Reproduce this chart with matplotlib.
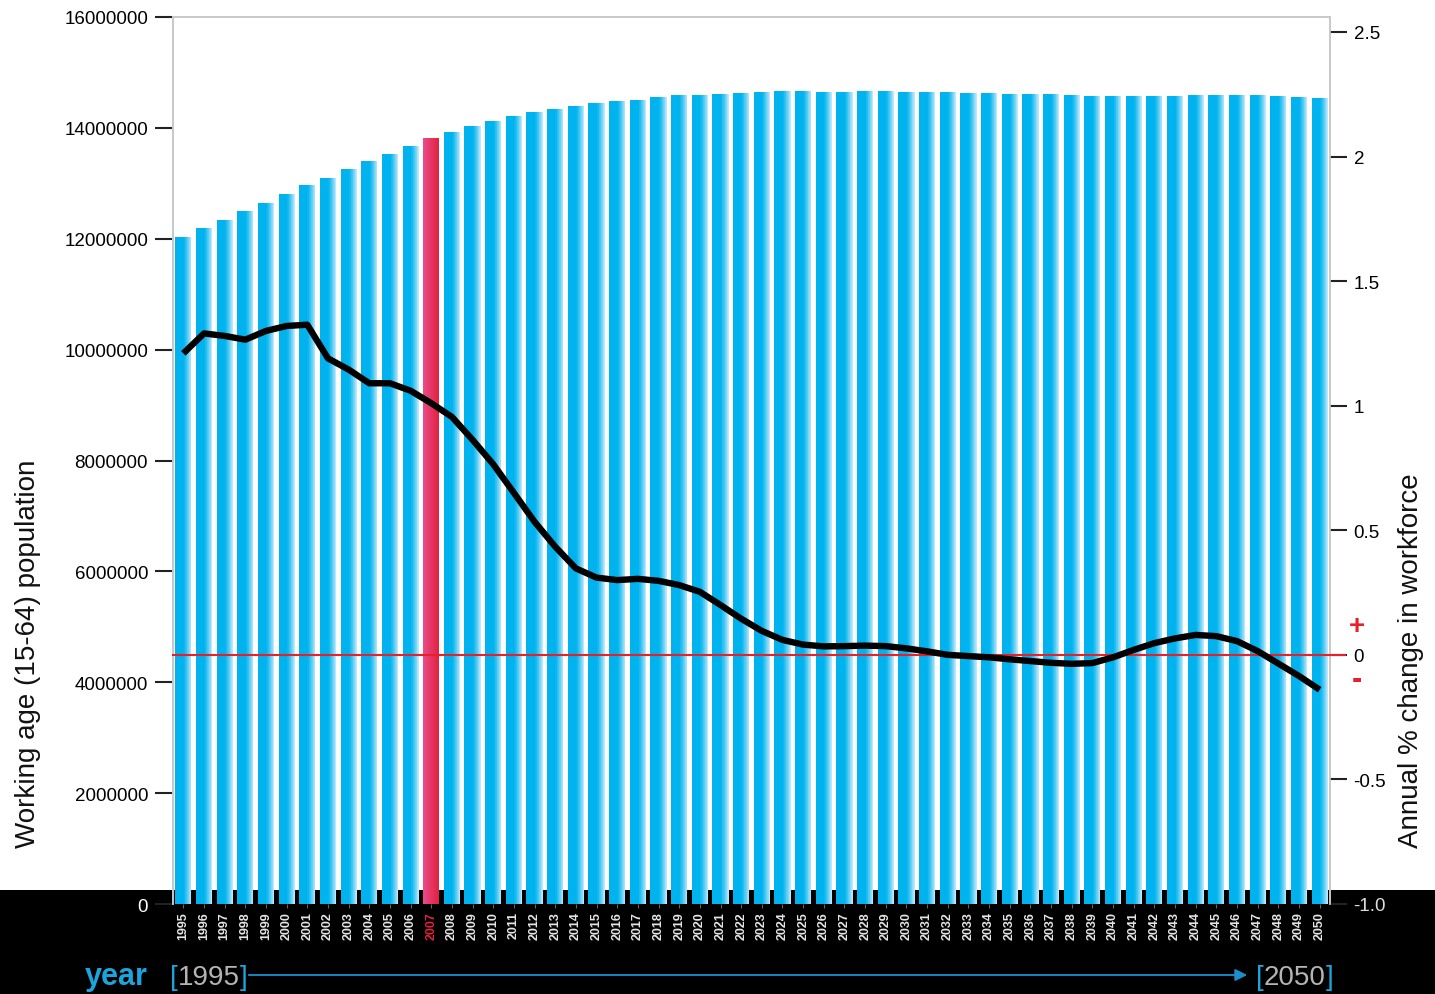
import numpy as np
import matplotlib.pyplot as plt
from matplotlib.patches import Rectangle, FancyArrowPatch
from matplotlib.colors import to_rgb
import matplotlib.transforms as mtrans

plt.rcParams['font.family'] = ['Liberation Sans', 'DejaVu Sans']

years = list(range(1995, 2051))
population = [
    12030000, 12190000, 12340000, 12500000, 12640000, 12810000, 12970000,
    13100000, 13260000, 13400000, 13530000, 13670000, 13820000, 13930000,
    14030000, 14120000, 14210000, 14290000, 14340000, 14390000, 14450000,
    14480000, 14500000, 14560000, 14590000, 14590000, 14610000, 14630000,
    14650000, 14660000, 14660000, 14650000, 14650000, 14660000, 14660000,
    14650000, 14650000, 14650000, 14630000, 14630000, 14620000, 14610000,
    14610000, 14590000, 14580000, 14570000, 14570000, 14570000, 14580000,
    14590000, 14590000, 14590000, 14590000, 14570000, 14560000, 14540000,
]
change = [
    1.21, 1.29, 1.28, 1.265, 1.30, 1.32, 1.325, 1.19, 1.145, 1.09, 1.09,
    1.06, 1.01, 0.955, 0.863, 0.765, 0.65, 0.534, 0.434, 0.347, 0.31, 0.30,
    0.305, 0.297, 0.28, 0.253, 0.20, 0.145, 0.096, 0.06, 0.041, 0.034, 0.035,
    0.037, 0.035, 0.026, 0.014, 0.0, -0.005, -0.010, -0.018, -0.025, -0.032,
    -0.036, -0.033, -0.010, 0.020, 0.047, 0.066, 0.080, 0.075, 0.055, 0.015,
    -0.035, -0.085, -0.14,
]
highlight = 2007
left_ticks = [0, 2000000, 4000000, 6000000, 8000000, 10000000, 12000000,
              14000000, 16000000]
right_ticks = [-1.0, -0.5, 0, 0.5, 1, 1.5, 2, 2.5]
right_labels = ['-1.0', '-0.5', '0', '0.5', '1', '1.5', '2', '2.5']

W, H = 1435, 995
fig = plt.figure(figsize=(W / 100, H / 100), dpi=100)
band = 1 - 891 / H
fig.patches.append(Rectangle((0, 0), 1, band, transform=fig.transFigure,
                             facecolor='black', edgecolor='none', zorder=-1))

ax = fig.add_axes([173 / W, 1 - 905 / H, (1330 - 173) / W, (905 - 18) / H])
ax.patch.set_visible(False)
x = np.arange(len(years))

# bars with a left-to-right gradient, drawn as thin slices
n_sl = 24
bw = 0.78
sw = bw / n_sl
blue0, blue1 = np.array(to_rgb('#00b3ee')), np.array(to_rgb('#b8e8fb'))
red0, red1 = np.array(to_rgb('#e94a88')), np.array(to_rgb('#e2203e'))
for k in range(n_sl):
    t = k / (n_sl - 1)
    f = 0 if t < 0.5 else ((t - 0.5) / 0.5) ** 1.3
    cb = blue0 + (blue1 - blue0) * f
    cr = red0 + (red1 - red0) * t
    cols = [cr if y == highlight else cb for y in years]
    ax.bar(x - bw / 2 + (k + 0.5) * sw, population, width=sw * 1.1,
           color=cols, linewidth=0, zorder=2)

ax.set_xlim(-0.5, len(years) - 0.5)
ax.set_ylim(0, 16000000)
ax.set_yticks(left_ticks)
ax.set_yticklabels([str(v) for v in left_ticks], fontsize=13.5)
ax.get_yticklabels()[0].set_color('white')
ax.tick_params(axis='y', direction='out', length=13, width=1.5,
               color='#222222', pad=5)
ax.set_xticks(x)
ax.set_xticklabels([str(y) for y in years], rotation=90, fontsize=9,
                   fontweight='bold', color='#e6e6e6')
for lab, y in zip(ax.get_xticklabels(), years):
    if y == highlight:
        lab.set_color('#e8203c')
ax.tick_params(axis='x', length=3, color='#666666', pad=2)
for s in ['top', 'left', 'right']:
    ax.spines[s].set_color('#c8c8c8')
    ax.spines[s].set_linewidth(1.2)
ax.spines['bottom'].set_visible(False)

ax2 = ax.twinx()
ax2.set_ylim(-1.0, 2.56)
ax2.plot(x, change, color='black', lw=4.6, solid_capstyle='butt',
         solid_joinstyle='round', zorder=5)
trans = mtrans.blended_transform_factory(ax2.transAxes, ax2.transData)
ax2.plot([0, 1.013], [0, 0], color='#e8202a', lw=1.5, transform=trans,
         clip_on=False, zorder=4)
ax2.set_yticks(right_ticks)
ax2.set_yticklabels(right_labels, fontsize=13.5)
ax2.get_yticklabels()[0].set_color('#dddddd')
ax2.tick_params(axis='y', direction='out', length=12, width=1.5,
                color='#222222', pad=5)
for s in ['top', 'left', 'right']:
    ax2.spines[s].set_color('#c8c8c8')
    ax2.spines[s].set_linewidth(1.2)
ax2.spines['bottom'].set_visible(False)

fig.text(1357 / W, 1 - 627 / H, '+', color='#e8202a', fontsize=20,
         fontweight='bold', ha='center', va='center')
fig.text(1357 / W, 1 - 680 / H, '-', color='#e8202a', fontsize=22,
         fontweight='bold', ha='center', va='center')

fig.text(28 / W, 1 - 848 / H, 'Working age (15-64) population', rotation=90,
         fontsize=20, ha='center', va='bottom', color='#111111')
fig.text(1411 / W, 1 - 848 / H, 'Annual % change in workforce', rotation=90,
         fontsize=20, ha='center', va='bottom', color='#111111')

# bottom year strip
cyan = '#1aa6dc'
fig.text(85 / W, 1 - 985 / H, 'year', fontsize=22, fontweight='bold',
         color=cyan, ha='left', va='baseline')
renderer = fig.canvas.get_renderer()


def bracketed(x0, label):
    xp = x0
    for piece, col in [('[', cyan), (label, '#b4b4b4'), (']', cyan)]:
        t = fig.text(xp / W, 1 - 985 / H, piece, fontsize=20, color=col,
                     ha='left', va='baseline')
        xp += t.get_window_extent(renderer).width
    return xp


bracketed(170, '1995')
bracketed(1256, '2050')
fig.patches.append(FancyArrowPatch((246 / W, 1 - 976 / H),
                                   (1250 / W, 1 - 976 / H),
                                   transform=fig.transFigure,
                                   arrowstyle='-|>', mutation_scale=18,
                                   color='#1a8fcc', lw=1.3))

fig.savefig('out.png', dpi=100, facecolor='white')
